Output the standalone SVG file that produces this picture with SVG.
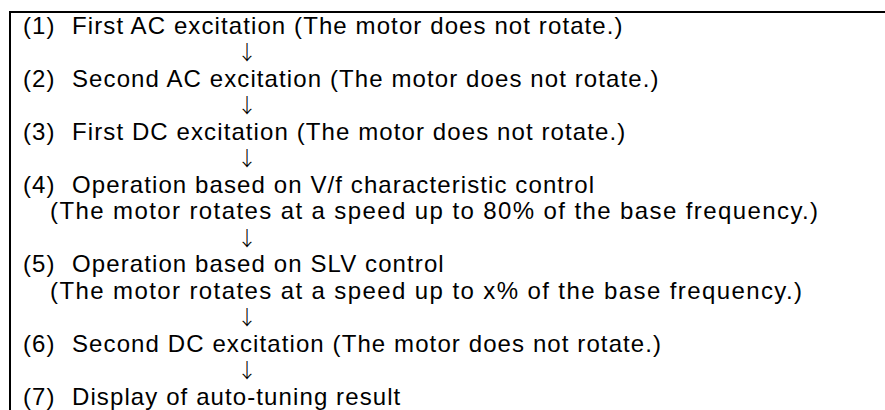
<svg xmlns="http://www.w3.org/2000/svg" width="885" height="410" viewBox="0 0 885 410">
  <style>
    .t { font-family: "Liberation Sans", Arial, sans-serif; font-size: 24px; letter-spacing: 1.1px; fill: #000; }
    .s { letter-spacing: 1.4px; }
    .a { font-family: "Noto Sans CJK JP", "DejaVu Sans", sans-serif; font-size: 20px; font-weight: 300; fill: #000; text-anchor: middle; }
    .frame { stroke: #000; stroke-width: 2; fill: none; }
  </style>
  <rect width="885" height="410" fill="#fff"/>
  <g id="frame">
    <path class="frame" d="M10,410 V12 H885"/>
  </g>
  <g id="step1">
    <text class="t" x="23" y="33.5">(1)</text>
    <text class="t" x="72" y="33.5">First AC excitation (The motor does not rotate.)</text>
  </g>
  <g id="step2">
    <text class="t" x="23" y="86.5">(2)</text>
    <text class="t" x="72" y="86.5">Second AC excitation (The motor does not rotate.)</text>
  </g>
  <g id="step3">
    <text class="t" x="23" y="139.5">(3)</text>
    <text class="t" x="72" y="139.5">First DC excitation (The motor does not rotate.)</text>
  </g>
  <g id="step4">
    <text class="t" x="23" y="192.5">(4)</text>
    <text class="t" x="72" y="192.5">Operation based on V/f characteristic control</text>
    <text class="t s" x="50" y="219">(The motor rotates at a speed up to 80% of the base frequency.)</text>
  </g>
  <g id="step5">
    <text class="t" x="23" y="272">(5)</text>
    <text class="t" x="72" y="272">Operation based on SLV control</text>
    <text class="t s" x="50" y="298.5">(The motor rotates at a speed up to x% of the base frequency.)</text>
  </g>
  <g id="step6">
    <text class="t" x="23" y="351.5">(6)</text>
    <text class="t" x="72" y="351.5">Second DC excitation (The motor does not rotate.)</text>
  </g>
  <g id="step7">
    <text class="t" x="23" y="404.5">(7)</text>
    <text class="t" x="72" y="404.5">Display of auto-tuning result</text>
  </g>
  <g id="connectors">
    <text class="a" x="247" y="60">↓</text>
    <text class="a" x="247" y="113">↓</text>
    <text class="a" x="247" y="166">↓</text>
    <text class="a" x="247" y="245.5">↓</text>
    <text class="a" x="247" y="325">↓</text>
    <text class="a" x="247" y="378">↓</text>
  </g>
</svg>
